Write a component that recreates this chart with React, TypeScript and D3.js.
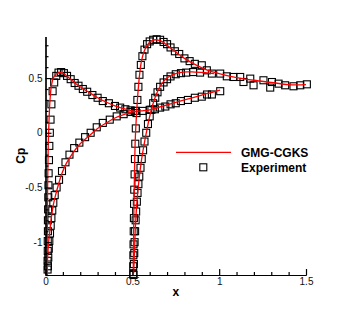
import React, { useEffect, useRef } from "react";
import * as d3 from "d3";

// GMG-CGKS lines, element 1 (x 0..1) and element 2 (x 0.5..1.5)
const upper1X = [0.010, 0.010, 0.011, 0.013, 0.016, 0.020, 0.026, 0.034, 0.045, 0.060, 0.080, 0.100, 0.130, 0.170, 0.200, 0.250, 0.300, 0.350, 0.400, 0.450, 0.500, 0.530];
const upper1Cp = [-1.30, -1.00, -0.70, -0.40, -0.10, 0.10, 0.30, 0.43, 0.50, 0.535, 0.55, 0.545, 0.51, 0.455, 0.42, 0.37, 0.32, 0.28, 0.245, 0.22, 0.20, 0.19];

const lower1X = [0.008, 0.012, 0.018, 0.026, 0.035, 0.045, 0.058, 0.075, 0.095, 0.120, 0.155, 0.200, 0.250, 0.300, 0.350, 0.400, 0.450, 0.500, 0.550, 0.600, 0.700, 0.800, 0.900, 0.960, 1.005];
const lower1Cp = [-1.30, -1.15, -1.00, -0.88, -0.76, -0.66, -0.57, -0.47, -0.37, -0.28, -0.19, -0.10, -0.03, 0.04, 0.09, 0.135, 0.165, 0.19, 0.20, 0.21, 0.255, 0.30, 0.345, 0.37, 0.39];

const upper2X = [0.505, 0.507, 0.509, 0.512, 0.516, 0.520, 0.526, 0.533, 0.541, 0.552, 0.567, 0.585, 0.610, 0.640, 0.670, 0.700, 0.740, 0.800, 0.860, 0.920, 1.000, 1.100, 1.200, 1.300, 1.400, 1.500];
const upper2Cp = [-1.30, -1.00, -0.70, -0.40, -0.10, 0.05, 0.22, 0.38, 0.52, 0.65, 0.74, 0.80, 0.84, 0.85, 0.835, 0.80, 0.75, 0.68, 0.625, 0.58, 0.54, 0.505, 0.48, 0.46, 0.44, 0.44];

const lower2X = [0.508, 0.513, 0.519, 0.527, 0.537, 0.550, 0.565, 0.583, 0.600, 0.620, 0.640, 0.670, 0.700, 0.730, 0.790, 0.860, 0.920, 0.970];
const lower2Cp = [-1.28, -1.05, -0.82, -0.62, -0.45, -0.28, -0.13, 0.02, 0.15, 0.27, 0.36, 0.45, 0.50, 0.53, 0.555, 0.555, 0.55, 0.54];

// Experiment
const expUpper1X = [0.012, 0.012, 0.013, 0.013, 0.014, 0.014, 0.015, 0.016, 0.017, 0.018, 0.020, 0.022, 0.025, 0.029, 0.034, 0.041, 0.050, 0.062, 0.075, 0.090, 0.106, 0.124, 0.145, 0.168, 0.190, 0.215, 0.240, 0.270, 0.300, 0.330, 0.365, 0.400, 0.430, 0.460, 0.490, 0.515];
const expUpper1Cp = [-1.25, -1.17, -1.08, -0.99, -0.90, -0.80, -0.70, -0.59, -0.48, -0.37, -0.25, -0.12, 0.00, 0.12, 0.26, 0.38, 0.46, 0.52, 0.55, 0.555, 0.545, 0.52, 0.49, 0.455, 0.43, 0.40, 0.375, 0.345, 0.32, 0.29, 0.27, 0.245, 0.23, 0.215, 0.205, 0.20];

const expLower1X = [0.014, 0.016, 0.019, 0.022, 0.026, 0.030, 0.034, 0.039, 0.045, 0.053, 0.064, 0.078, 0.095, 0.115, 0.138, 0.165, 0.195, 0.228, 0.260, 0.295, 0.330, 0.370, 0.410, 0.450, 0.490, 0.520, 0.560, 0.600, 0.630, 0.660, 0.690, 0.720, 0.750, 0.780, 0.820, 0.860, 0.900, 0.930, 0.958, 1.006];
const expLower1Cp = [-1.22, -1.14, -1.06, -0.99, -0.92, -0.85, -0.78, -0.71, -0.64, -0.57, -0.50, -0.43, -0.35, -0.27, -0.20, -0.14, -0.09, -0.04, 0.00, 0.05, 0.09, 0.12, 0.15, 0.17, 0.19, 0.20, 0.20, 0.21, 0.215, 0.23, 0.24, 0.26, 0.27, 0.29, 0.30, 0.32, 0.33, 0.35, 0.35, 0.38];

const expUpper2X = [0.505, 0.505, 0.506, 0.507, 0.508, 0.509, 0.510, 0.511, 0.513, 0.515, 0.517, 0.520, 0.524, 0.529, 0.535, 0.541, 0.549, 0.558, 0.570, 0.585, 0.600, 0.620, 0.640, 0.660, 0.680, 0.700, 0.720, 0.745, 0.770, 0.800, 0.830, 0.860, 0.900, 0.929, 0.958, 1.006, 1.044, 1.082, 1.121, 1.140, 1.179, 1.198, 1.255, 1.294, 1.304, 1.342, 1.380, 1.428, 1.467, 1.505];
const expUpper2Cp = [-1.29, -1.22, -1.12, -1.02, -0.90, -0.78, -0.65, -0.52, -0.38, -0.24, -0.10, 0.04, 0.18, 0.30, 0.42, 0.53, 0.62, 0.70, 0.76, 0.81, 0.835, 0.85, 0.855, 0.85, 0.83, 0.81, 0.78, 0.745, 0.72, 0.68, 0.655, 0.63, 0.617, 0.571, 0.541, 0.541, 0.516, 0.51, 0.51, 0.464, 0.495, 0.434, 0.48, 0.413, 0.464, 0.449, 0.434, 0.425, 0.434, 0.443];

const expLower2X = [0.507, 0.509, 0.511, 0.513, 0.516, 0.519, 0.522, 0.526, 0.530, 0.535, 0.540, 0.547, 0.554, 0.562, 0.570, 0.580, 0.590, 0.600, 0.610, 0.620, 0.632, 0.645, 0.660, 0.680, 0.700, 0.720, 0.750, 0.780, 0.810, 0.850, 0.890];
const expLower2Cp = [-1.30, -1.20, -1.10, -1.00, -0.90, -0.80, -0.72, -0.63, -0.55, -0.47, -0.40, -0.32, -0.24, -0.16, -0.08, 0.00, 0.08, 0.15, 0.21, 0.27, 0.32, 0.37, 0.42, 0.46, 0.49, 0.515, 0.535, 0.545, 0.55, 0.555, 0.55];

const xMajor = [0, 0.5, 1, 1.5];
const yMajor = [-1, -0.5, 0, 0.5];

const W = 349;
const H = 310;
const xs = d3.scaleLinear().domain([0, 1.5]).range([45.5, 306]);
const ys = d3.scaleLinear().domain([-1.3, 0.88]).range([275, 36.5]);

const zip = (x: number[], y: number[]) => x.map((v, i) => [v, y[i]] as [number, number]);

const lines = [zip(upper1X, upper1Cp), zip(lower1X, lower1Cp), zip(upper2X, upper2Cp), zip(lower2X, lower2Cp)];
const exps = [zip(expUpper1X, expUpper1Cp), zip(expLower1X, expLower1Cp), zip(expUpper2X, expUpper2Cp), zip(expLower2X, expLower2Cp)];

const FONT = "'Liberation Sans', Arial, sans-serif";

function Axes() {
  const gx = useRef<SVGGElement>(null);
  const gy = useRef<SVGGElement>(null);

  useEffect(() => {
    const minorX = d3.range(0, 1.501, 0.1).filter((v) => !xMajor.some((m) => Math.abs(m - v) < 1e-6));
    const minorY = d3.range(-1.3, 0.801, 0.1).filter((v) => !yMajor.some((m) => Math.abs(m - v) < 1e-6));

    const bx = d3.select(gx.current);
    bx.selectAll("*").remove();
    bx.append("g").call(d3.axisBottom(xs).tickValues(minorX).tickSize(-3).tickSizeOuter(0).tickFormat(() => ""));
    bx.append("g").call(
      d3.axisBottom(xs).tickValues(xMajor).tickSize(-6).tickSizeOuter(0).tickPadding(3).tickFormat((d) => String(d))
    );

    const by = d3.select(gy.current);
    by.selectAll("*").remove();
    by.append("g").call(d3.axisLeft(ys).tickValues(minorY).tickSize(-3).tickSizeOuter(0).tickFormat(() => ""));
    by.append("g").call(
      d3.axisLeft(ys).tickValues(yMajor).tickSize(-6).tickSizeOuter(0).tickPadding(3).tickFormat((d) => String(d))
    );

    [bx, by].forEach((g) => {
      g.selectAll(".domain, .tick line").attr("stroke", "#000").attr("stroke-width", 1.2);
      g.selectAll("text").attr("font-family", FONT).attr("font-size", 10).attr("fill", "#111");
    });
  }, []);

  return (
    <>
      <g ref={gx} transform={`translate(0,${ys.range()[0]})`} />
      <g ref={gy} transform={`translate(${xs.range()[0]},0)`} />
    </>
  );
}

export default function App() {
  const line = d3
    .line<[number, number]>()
    .x((d) => xs(d[0]))
    .y((d) => ys(d[1]))
    .curve(d3.curveCatmullRom.alpha(0.5));
  const s = 7;

  return (
    <svg width={W} height={H} style={{ position: "absolute", left: 0, top: 0, background: "#fff" }}>
      <defs>
        <clipPath id="plot">
          <rect x={xs.range()[0]} y={ys.range()[1]} width={xs.range()[1] - xs.range()[0]} height={ys.range()[0] - ys.range()[1]} />
        </clipPath>
      </defs>

      {exps.map((pts, k) => (
        <g key={`exp-${k}`}>
          {pts.map(([x, y], i) => (
            <rect
              key={i}
              x={xs(x) - s / 2}
              y={ys(y) - s / 2}
              width={s}
              height={s}
              fill="none"
              stroke="#000"
              strokeWidth={1.1}
            />
          ))}
        </g>
      ))}

      <g clipPath="url(#plot)">
        {lines.map((pts, k) => (
          <path key={`line-${k}`} d={line(pts) || ""} fill="none" stroke="#ff0000" strokeWidth={1.3} />
        ))}
      </g>

      <Axes />

      <text x={175.75} y={296} textAnchor="middle" fontFamily={FONT} fontWeight="bold" fontSize={12}>
        x
      </text>
      <text
        transform={`translate(20.5,${(ys.range()[0] + ys.range()[1]) / 2}) rotate(-90)`}
        textAnchor="middle"
        dy="0.35em"
        fontFamily={FONT}
        fontWeight="bold"
        fontSize={12}
      >
        Cp
      </text>

      <line x1={176} x2={231} y1={152.3} y2={152.3} stroke="#ff0000" strokeWidth={1.3} />
      <text x={241} y={156.5} fontFamily={FONT} fontWeight="bold" fontSize={12}>
        GMG-CGKS
      </text>
      <rect x={203.3 - s / 2} y={167.3 - s / 2} width={s} height={s} fill="none" stroke="#000" strokeWidth={1.1} />
      <text x={241} y={171.5} fontFamily={FONT} fontWeight="bold" fontSize={12}>
        Experiment
      </text>
    </svg>
  );
}
